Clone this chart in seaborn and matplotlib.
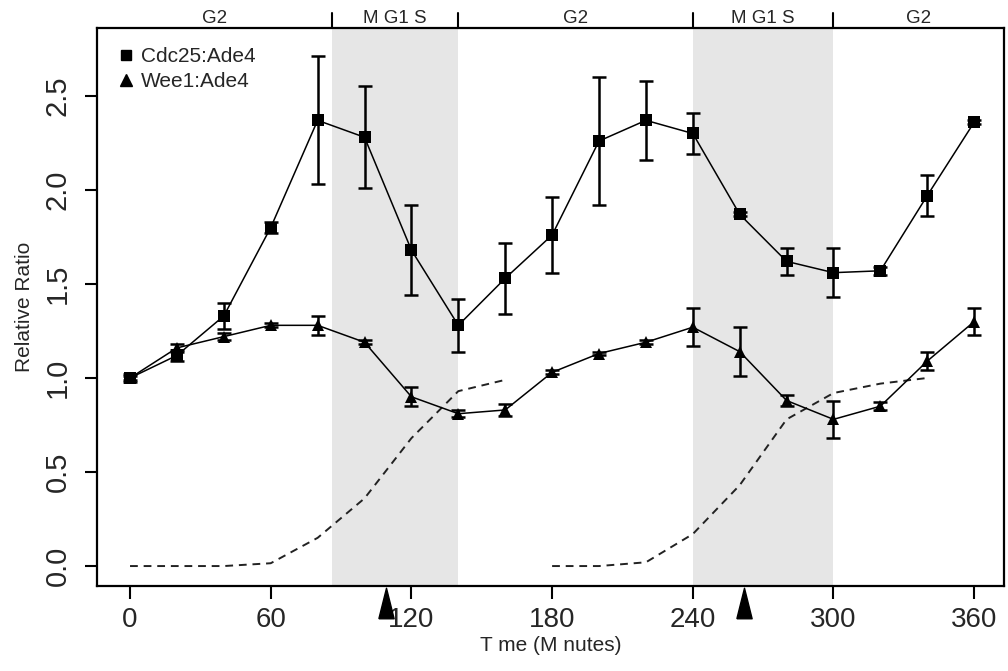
import numpy as np
import pandas as pd
import matplotlib
matplotlib.use('Agg')
import matplotlib.pyplot as plt
import matplotlib.transforms as mtransforms
from matplotlib.lines import Line2D
import seaborn as sns

# time points (minutes)
times = [0, 20, 40, 60, 80, 100, 120, 140, 160, 180, 200, 220, 240, 260, 280, 300, 320, 340, 360]

cdc25_mean = [1.00, 1.12, 1.33, 1.80, 2.37, 2.28, 1.68, 1.28, 1.53, 1.76, 2.26, 2.37, 2.30, 1.87, 1.62, 1.56, 1.57, 1.97, 2.36]
cdc25_err = [0.02, 0.03, 0.07, 0.03, 0.34, 0.27, 0.24, 0.14, 0.19, 0.20, 0.34, 0.21, 0.11, 0.01, 0.07, 0.13, 0.02, 0.11, 0.01]

wee1_mean = [1.00, 1.16, 1.22, 1.28, 1.28, 1.19, 0.90, 0.81, 0.83, 1.03, 1.13, 1.19, 1.27, 1.14, 0.88, 0.78, 0.85, 1.09, 1.30]
wee1_err = [0.01, 0.02, 0.02, 0.01, 0.05, 0.01, 0.05, 0.02, 0.03, 0.01, 0.01, 0.01, 0.10, 0.13, 0.03, 0.10, 0.02, 0.05, 0.07]

# septation index curves (dashed)
sept1_t = [0, 20, 40, 60, 80, 100, 120, 140, 160]
sept1_v = [0.0, 0.0, 0.0, 0.015, 0.15, 0.36, 0.68, 0.93, 0.99]
sept2_t = [180, 200, 220, 240, 260, 280, 300, 320, 340]
sept2_v = [0.0, 0.0, 0.02, 0.17, 0.43, 0.78, 0.92, 0.97, 1.0]

# cell cycle phases
shade_spans = [(86, 140), (240, 300)]
phase_bounds = [86, 140, 240, 300]
phase_labels = ['G2', 'M G1 S', 'G2', 'M G1 S', 'G2']
release_marks = [109, 262]

xticks = [0, 60, 120, 180, 240, 300, 360]
yticks = [0.0, 0.5, 1.0, 1.5, 2.0, 2.5]

sns.set_style('ticks')
plt.rcParams['font.family'] = ['Liberation Sans', 'DejaVu Sans']

df = pd.DataFrame({
    'time': times * 2,
    'ratio': cdc25_mean + wee1_mean,
    'series': ['Cdc25:Ade4'] * len(times) + ['Wee1:Ade4'] * len(times),
})

fig = plt.figure(figsize=(10.08, 6.71), dpi=100)
ax = fig.add_axes([0.0962, 0.1267, 0.8998, 0.8313])

for a, b in shade_spans:
    ax.axvspan(a, b, color='#e6e6e6', lw=0, zorder=0)

sns.lineplot(data=df, x='time', y='ratio', style='series',
             markers={'Cdc25:Ade4': 's', 'Wee1:Ade4': '^'}, dashes=False,
             color='black', lw=1.1, markersize=8, markeredgewidth=0,
             legend=False, ax=ax, zorder=3)
ax.errorbar(times, cdc25_mean, yerr=cdc25_err, fmt='none', ecolor='black',
            elinewidth=1.8, capsize=5, capthick=1.8, zorder=4)
ax.errorbar(times, wee1_mean, yerr=wee1_err, fmt='none', ecolor='black',
            elinewidth=1.8, capsize=5, capthick=1.8, zorder=4)

sns.lineplot(x=sept1_t, y=sept1_v, color='#222222', lw=1.4, ax=ax,
             linestyle=(0, (4, 3)), zorder=2)
sns.lineplot(x=sept2_t, y=sept2_v, color='#222222', lw=1.4, ax=ax,
             linestyle=(0, (4, 3)), zorder=2)

ax.set_xlim(-14.1, 372.7)
ax.set_ylim(-0.106, 2.86)
ax.set_xticks(xticks)
ax.set_yticks(yticks)
ax.set_xticklabels([str(t) for t in xticks], fontsize=20)
ax.set_yticklabels([f'{v:.1f}' for v in yticks], fontsize=21, rotation=90, va='center')
ax.tick_params(axis='both', length=9, width=1.5, color='black', pad=6)
ax.tick_params(axis='y', pad=9)
for s in ax.spines.values():
    s.set_linewidth(1.6)
    s.set_color('black')

ax.set_xlabel('T me (M nutes)', fontsize=15, labelpad=2)
ax.set_ylabel('Relative Ratio', fontsize=15, labelpad=7)

# phase labels and boundaries above the plot
trans = mtransforms.blended_transform_factory(ax.transData, ax.transAxes)
x0, x1 = ax.get_xlim()
edges = [x0] + phase_bounds + [x1]
for i, lab in enumerate(phase_labels):
    ax.text((edges[i] + edges[i + 1]) / 2, 1.003, lab, transform=trans,
            ha='center', va='bottom', fontsize=13.5)
for b in phase_bounds:
    ax.plot([b, b], [1.0, 1.027], transform=trans, color='black', lw=1.5, clip_on=False)

# release arrows below the axis
tri = [(-0.5, -1), (0.5, -1), (0, 1), (-0.5, -1)]
ax.plot(release_marks, [-0.03] * len(release_marks), transform=trans, ls='none',
        marker=tri, markersize=22, color='black', clip_on=False)

handles = [Line2D([], [], ls='none', marker='s', color='black', markersize=7),
           Line2D([], [], ls='none', marker='^', color='black', markersize=8)]
ax.legend(handles, ['Cdc25:Ade4', 'Wee1:Ade4'], loc='upper left', frameon=False,
          fontsize=15, handletextpad=0.2, handlelength=1.0, borderaxespad=0.5,
          labelspacing=0.3, bbox_to_anchor=(0.0, 1.0))

fig.savefig('out.png', dpi=100, facecolor='white')
